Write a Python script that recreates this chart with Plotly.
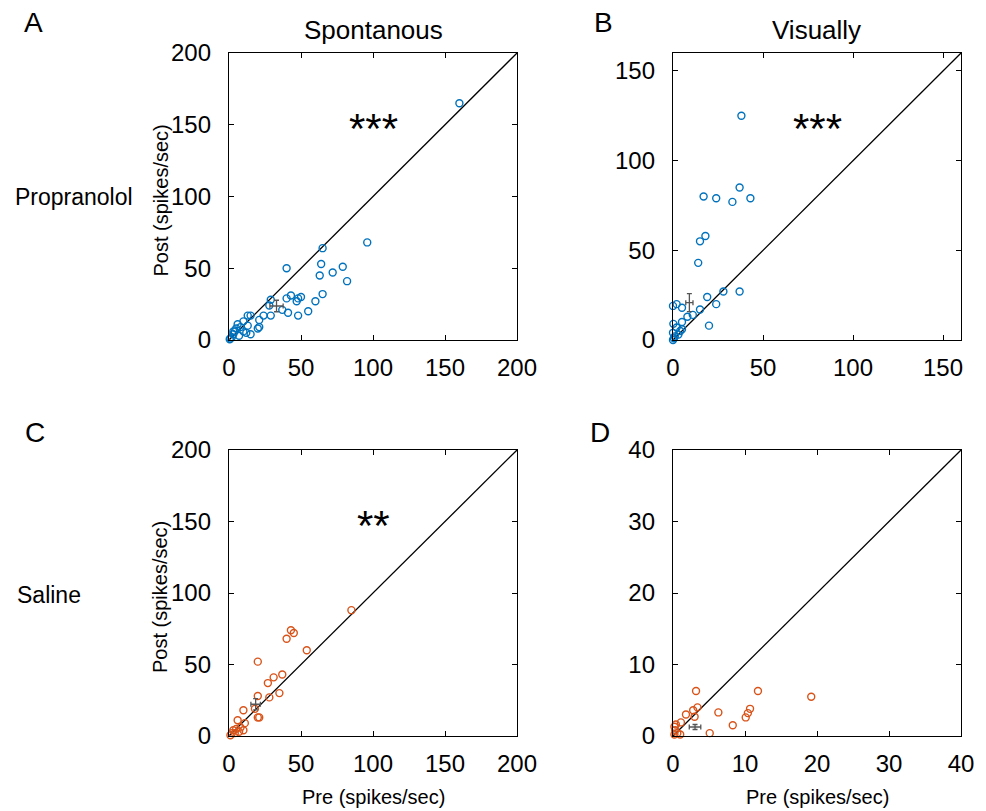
import plotly.graph_objects as go

BLUE = "#0072BD"
ORANGE = "#D95319"
GRAY = "#555555"

# Panel A: Propranolol, spontaneous (pre, post)
a_pre = [160, 96, 65, 40, 64, 79, 72, 63, 82, 65, 60, 55, 48, 50, 48, 47, 43, 40, 37, 41,
         29, 28, 29, 24, 21, 21, 15, 13, 10, 15, 10, 6, 13, 20, 12, 5, 4, 3, 2, 1, 0.5, 8, 7, 3]
a_post = [165, 68, 64, 50, 53, 51, 47, 45, 41, 32, 27, 20, 17, 30, 29, 27, 31, 29, 21, 19,
          28, 24, 17, 17, 14, 9, 17, 10, 13, 4, 6, 11, 17, 8, 5, 8, 6, 4, 2, 1, 0.5, 9, 3, 6]
a_mean = [33]
a_mean_post = [23.7]
a_sem_x = [4.6]
a_sem_y = [4]

# Panel B: Propranolol, visually evoked
b_pre = [38, 37, 17, 24, 33, 43, 18, 15, 14, 37, 28, 19, 24, 15, 20, 11, 8, 5, 2, 0,
         5, 0.2, 5, 4, 0, 1, 0, 0.5, 2, 3]
b_post = [125, 85, 80, 79, 77, 79, 58, 55, 43, 27, 27, 24, 20, 17, 8, 14, 13, 18, 20, 19,
          10, 9, 6, 5, 4, 2, 0, 1, 7, 3]
b_mean = [9.1]
b_mean_post = [20.8]
b_sem_x = [2]
b_sem_y = [5]

# Panel C: Saline, spontaneous
c_pre = [85, 43, 45, 40, 54, 20, 37, 31, 27, 35, 28, 20, 18, 10, 21, 20, 6, 11, 10, 8,
         5, 2, 1, 3, 4, 7]
c_post = [88, 74, 72, 68, 60, 52, 43, 41, 37, 30, 27, 28, 19, 18, 13, 13, 11, 9, 4, 6,
          5, 2, 0.5, 4, 2, 3]
c_mean = [18.5]
c_mean_post = [22.2]
c_sem_x = [3.3]
c_sem_y = [4]

# Panel D: Saline, visually evoked
d_pre = [19.2, 11.8, 3.2, 10.7, 10.4, 10.1, 6.3, 8.3, 5.1, 3.4, 2.8, 3.0, 1.8, 1.1,
         0.4, 0.2, 0.3, 0.6, 1.0, 0.2]
d_post = [5.5, 6.3, 6.3, 3.8, 3.2, 2.6, 3.3, 1.5, 0.4, 4.0, 3.6, 2.7, 3.0, 1.9,
          1.6, 1.3, 0.8, 0.4, 0.2, 0.2]
d_mean = [3.06]
d_mean_post = [1.26]
d_sem_x = [0.8]
d_sem_y = [0.35]

col_titles = ["Spontanous", "Visually"]
row_titles = ["Propranolol", "Saline"]
panel_letters = ["A", "B", "C", "D"]
stars = ["***", "***", "**", ""]
x_title = "Pre (spikes/sec)"
y_title = "Post (spikes/sec)"

a_ticks = [0, 50, 100, 150, 200]
b_ticks = [0, 50, 100, 150]
d_ticks = [0, 10, 20, 30, 40]
ranges = [200, 160, 200, 40]
tick_sets = [a_ticks, b_ticks, a_ticks, d_ticks]

FONT = "Arial, Liberation Sans, Helvetica, sans-serif"
W, H = 986, 811

fig = go.Figure()

panels = [
    (a_pre, a_post, a_mean, a_mean_post, a_sem_x, a_sem_y, BLUE),
    (b_pre, b_post, b_mean, b_mean_post, b_sem_x, b_sem_y, BLUE),
    (c_pre, c_post, c_mean, c_mean_post, c_sem_x, c_sem_y, ORANGE),
    (d_pre, d_post, d_mean, d_mean_post, d_sem_x, d_sem_y, ORANGE),
]

xpix = [(229, 517), (673, 961)]
ypix = [(53, 340), (450, 736)]
xdom = [[a / W, b / W] for a, b in xpix]
ydom = [[1 - b / H, 1 - a / H] for a, b in ypix]


def note(text, px, py, size, angle=0):
    fig.add_annotation(text=text, x=px / W, y=1 - py / H, xref="paper", yref="paper",
                       xanchor="center", yanchor="middle", showarrow=False, textangle=angle,
                       font=dict(size=size, family=FONT, color="black"))


for i, (px, py, mx, my, ex, ey, col) in enumerate(panels):
    n = i + 1
    xa = "x" if n == 1 else f"x{n}"
    ya = "y" if n == 1 else f"y{n}"
    r = ranges[i]
    fig.add_trace(go.Scatter(x=[0, r], y=[0, r], mode="lines",
                             line=dict(color="black", width=1.3),
                             xaxis=xa, yaxis=ya, showlegend=False, hoverinfo="skip"))
    fig.add_trace(go.Scatter(x=px, y=py, mode="markers",
                             marker=dict(symbol="circle-open", size=7, color=col,
                                         line=dict(width=1.4, color=col)),
                             xaxis=xa, yaxis=ya, showlegend=False, cliponaxis=False))
    fig.add_trace(go.Scatter(x=mx, y=my, mode="markers",
                             marker=dict(size=1, color=GRAY),
                             error_x=dict(type="data", array=ex, color=GRAY, thickness=1.3, width=2.5),
                             error_y=dict(type="data", array=ey, color=GRAY, thickness=1.3, width=2.5),
                             xaxis=xa, yaxis=ya, showlegend=False))

    row, colidx = divmod(i, 2)
    axis_common = dict(range=[0, r], tickvals=tick_sets[i], ticks="inside", ticklen=5,
                       tickwidth=1, tickcolor="black", showline=True, linecolor="black",
                       linewidth=1.3, mirror="ticks", showgrid=False, zeroline=False,
                       automargin=False,
                       tickfont=dict(size=24, color="black", family=FONT))
    xkey = "xaxis" if n == 1 else f"xaxis{n}"
    ykey = "yaxis" if n == 1 else f"yaxis{n}"
    xaxis = dict(axis_common, domain=xdom[colidx], anchor=ya, ticklabelstandoff=6)
    yaxis = dict(axis_common, domain=ydom[row], anchor=xa, ticklabelstandoff=12)
    fig.update_layout({xkey: xaxis, ykey: yaxis})

    cx = (xpix[colidx][0] + xpix[colidx][1]) / 2
    cy = (ypix[row][0] + ypix[row][1]) / 2
    if row == 1:
        note(x_title, cx, 797, 20)
    if colidx == 0:
        note(y_title, 160, cy + 4, 20, angle=-90)
    if stars[i]:
        note(stars[i], cx, ypix[row][0] + 75, 42)

letter_pos = [(33, 22), (603, 22), (35, 432), (600, 432)]
for (lx, ly), letter in zip(letter_pos, panel_letters):
    note(letter, lx, ly, 28)

for cx, t in zip([373, 816], col_titles):
    note(t, cx, 30, 26)

for (rx, ry), t in zip([(74, 197), (49, 595)], row_titles):
    note(t, rx, ry, 23)

fig.update_layout(width=W, height=H,
                  margin=dict(l=0, r=0, t=0, b=0, autoexpand=False),
                  paper_bgcolor="white", plot_bgcolor="white",
                  font=dict(family=FONT, color="black"))

fig.write_html("out.html", config={"displayModeBar": False},
               post_script="document.body.style.margin='0px';document.body.style.overflow='hidden';")
